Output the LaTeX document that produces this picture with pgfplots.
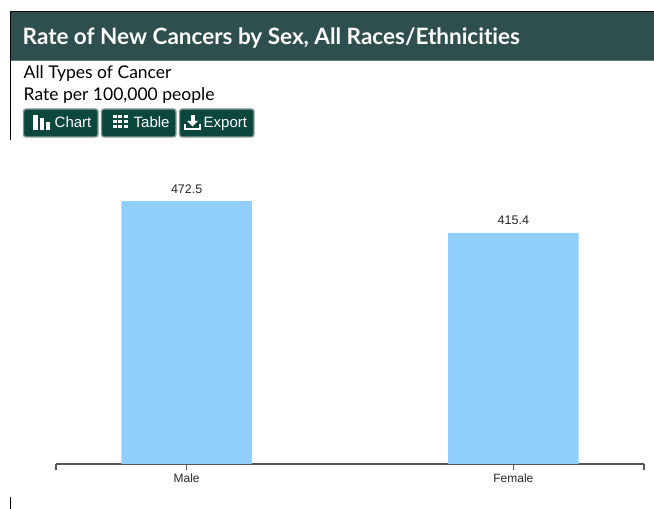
\documentclass[border=0pt]{standalone}
\usepackage{pgfplots}
\pgfplotsset{compat=1.18}
\usepackage{fontspec}
\setmainfont{Lato}[Ligatures=NoCommon]
\newfontfamily\arialfont{Liberation Sans}
\definecolor{headerbg}{HTML}{2F4F4F}
\definecolor{headerline}{HTML}{5F7A7A}
\definecolor{btnbg}{HTML}{0B473D}
\definecolor{btnedge}{HTML}{8A9A97}
\definecolor{barblue}{HTML}{90CFFF}
\definecolor{axisgrey}{HTML}{555555}
\begin{document}
\begin{tikzpicture}[x=1pt,y=1pt,
  btn/.style={draw=btnedge,line width=1.4pt,fill=btnbg,rounded corners=2.5pt},
  btntext/.style={text=white,inner sep=0pt,anchor=base west,font=\arialfont\fontsize{15}{16}\selectfont}]
\useasboundingbox (0,0) rectangle (654,509);
% page frame: header band and left rule
\fill[headerbg] (10.5,449) rectangle (654,497);
\fill[headerline] (10.5,448) rectangle (654,449.2);
\draw[black,line width=1pt] (10,497.5) -- (654,497.5);
\draw[black,line width=1pt] (10.5,498) -- (10.5,369);
\draw[black,line width=1pt] (10.5,12) -- (10.5,0);
\node[anchor=base west,inner sep=0pt,text=white,font=\fontsize{22.5}{26}\selectfont\bfseries] at (22.5,464) {Rate of New Cancers by Sex, All Races/Ethnicities};
\node[anchor=base west,inner sep=0pt,font=\fontsize{17.5}{20}\selectfont] at (23.5,430.5) {All Types of Cancer};
\node[anchor=base west,inner sep=0pt,font=\fontsize{17.5}{20}\selectfont] at (23.5,408.5) {Rate per 100,000 people};
% toolbar buttons
\draw[btn] (23.5,372) rectangle (98,400);
\draw[btn] (101.5,372) rectangle (176,400);
\draw[btn] (179.5,372) rectangle (254,400);
% chart icon
\fill[white] (33,379) rectangle (38,394);
\fill[white] (39.5,379) rectangle (44,391);
\fill[white] (45.5,379) rectangle (50,387);
\node[btntext] at (54.5,381) {Chart};
% table icon
\foreach \i in {0,1,2}\foreach \j in {0,1,2}
  \fill[white] (112.5+5.5*\i,380.5+5*\j) rectangle ++(4,3.6);
\node[btntext] at (133.5,381) {Table};
% export icon
\fill[white] (184,378.5) rectangle (201,380.5);
\fill[white] (184,380.5) rectangle (186,385);
\fill[white] (199,380.5) rectangle (201,385);
\fill[white] (190.5,388) rectangle (194.5,394);
\fill[white] (187,388) -- (198,388) -- (192.5,382.5) -- cycle;
\node[btntext] at (203.5,381) {Export};
\begin{axis}[
  at={(56pt,45pt)},anchor=south west,
  scale only axis,width=588pt,height=300pt,
  xmin=-0.4,xmax=1.4,ymin=0,ymax=539,
  axis x line=bottom,axis y line=none,
  axis line style={axisgrey,line width=1.2pt,-},
  clip=false,
  xtick={-0.4,0,1,1.4},
  xticklabels={,Male,Female,},
  x tick label style={font=\arialfont\fontsize{12}{14}\selectfont,text=black!85,inner sep=0pt,yshift=-4pt},
  tick style={axisgrey,line width=1.2pt},
  major tick length=6pt,
  tick align=outside,
  xtick pos=bottom,
  nodes near coords,
  point meta=explicit symbolic,
  every node near coord/.append style={font=\arialfont\fontsize{12.5}{14}\selectfont,text=black!85,inner sep=0pt,yshift=7.5pt},
]
\addplot[ybar,bar width=130.5pt,fill=barblue,draw=none] table[meta=label] {
x y label
0 472.5 472.5
1 415.4 415.4
};
\end{axis}
\end{tikzpicture}
\end{document}
